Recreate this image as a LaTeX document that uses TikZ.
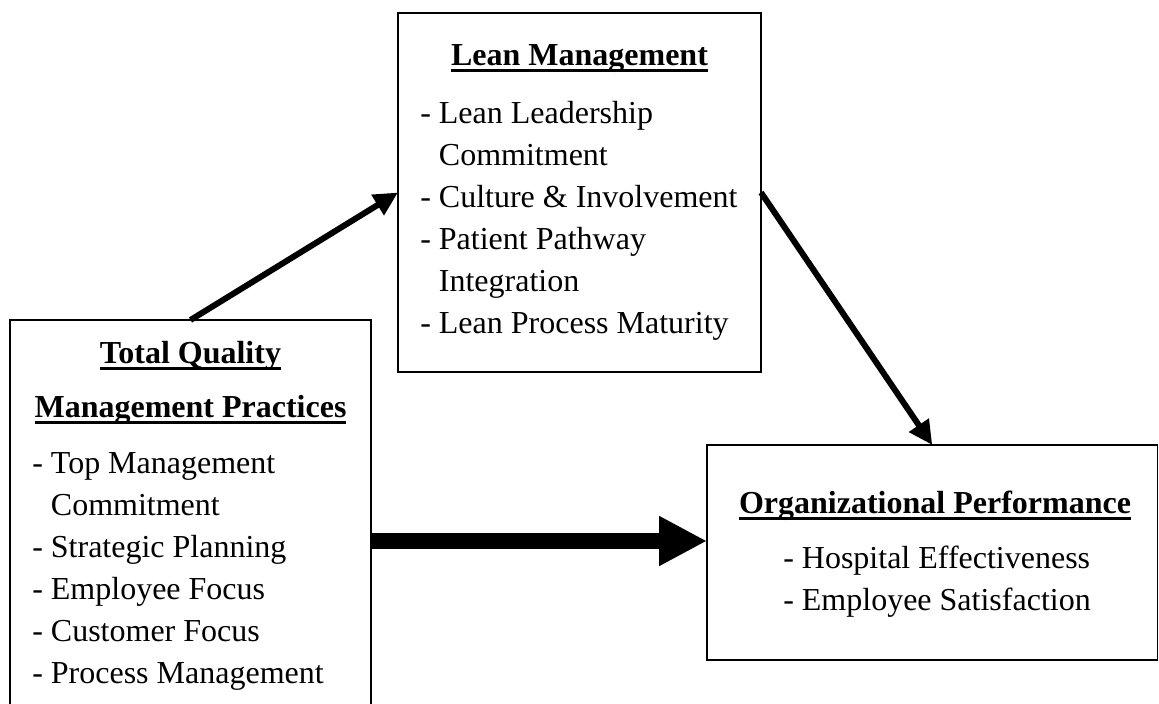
\documentclass[tikz,border=0pt]{standalone}
\usepackage{fontspec}
\setmainfont{Liberation Serif}
\usetikzlibrary{arrows.meta,positioning}
% indent for a wrapped list line
\newcommand{\wrapin}{\hphantom{-}~}
% heavy underline for the box headings
\newcommand{\headrule}[1]{\setbox0\hbox{#1}\rlap{\rule[-5.5pt]{\wd0}{2.6pt}}\box0}

\begin{document}
\begin{tikzpicture}[x=0.75pt,y=-0.75pt,
  font=\fontsize{24}{31.5}\selectfont,
  frame/.style={draw,line width=1.2pt,inner sep=0pt,outer sep=0pt,anchor=north west},
  head/.style={font=\fontsize{24}{31.5}\selectfont\bfseries,anchor=base,align=center,inner sep=0pt},
  items/.style={anchor=base west,align=left,inner sep=0pt},
  link/.style={-{Triangle[length=18pt,width=17pt]},line width=4.5pt},
  main/.style={-{Triangle[length=36pt,width=35pt]},line width=12pt}]
  \useasboundingbox (0,0) rectangle (1159,703);
  \clip (0,0) rectangle (1159,703);
  % the three boxes
  \node[frame,minimum width=270.75pt,minimum height=331.5pt] (tqm) at (10,320) {};
  \node[frame,minimum width=272.25pt,minimum height=269.25pt] (lean) at (398,13) {};
  \node[frame,minimum width=337.9pt,minimum height=161.25pt] (org) at (707,445) {};
  % their texts (base = last line)
  \node[head] (tqmhead) at (190.5,417) {\headrule{Total Quality}\\[9pt]\headrule{Management Practices}};
  \node[items] (tqmlist) at (32,683) {- Top Management\\\wrapin Commitment\\- Strategic Planning\\- Employee Focus\\- Customer Focus\\- Process Management};
  \node[head] (leanhead) at (579.5,65) {\headrule{Lean Management}};
  \node[items] (leanlist) at (420,333) {- Lean Leadership\\\wrapin Commitment\\- Culture \& Involvement\\- Patient Pathway\\\wrapin Integration\\- Lean Process Maturity};
  \node[head] (orghead) at (935,513) {\headrule{Organizational Performance}};
  \node[items] (orglist) at (783,610) {- Hospital Effectiveness\\- Employee Satisfaction};
  % paths between them
  \draw[link] (tqm.north) -- (lean.west);
  \draw[link] (lean.east) -- (org.north);
  \draw[main] (tqm.east) -- (tqm.east -| org.west);
\end{tikzpicture}
\end{document}
